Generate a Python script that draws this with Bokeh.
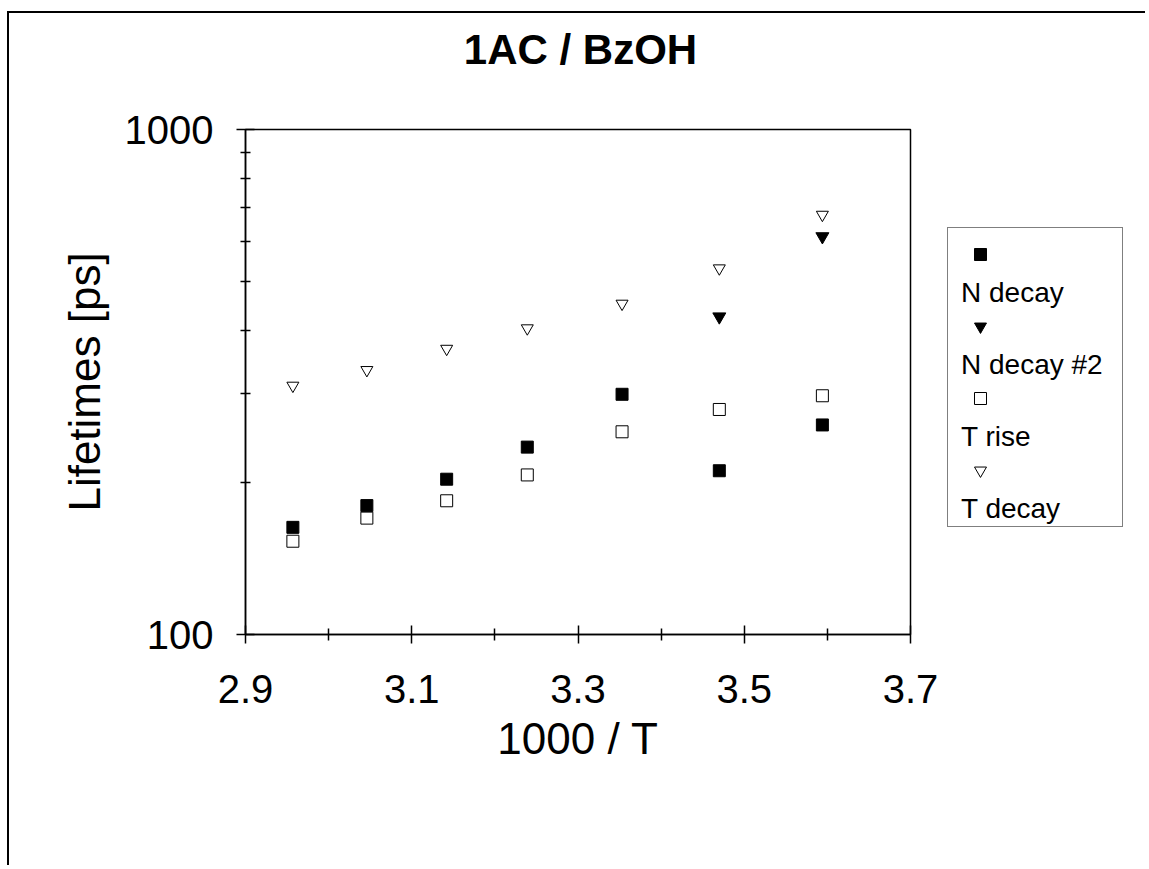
from bokeh.plotting import figure
from bokeh.models import FixedTicker, Legend, LegendItem, Label
from bokeh.embed import file_html
from bokeh.resources import INLINE

# ---- data ----
inv_temp = [2.957, 3.046, 3.142, 3.239, 3.353, 3.470, 3.594]
n_decay = [163, 180, 203, 235, 299, 211, 260]
inv_temp_2 = [3.470, 3.594]
n_decay_2 = [426, 614]
t_rise = [153, 170, 184, 207, 252, 279, 297]
t_decay = [311, 334, 368, 404, 452, 531, 678]

x_ticks = [2.9, 3.1, 3.3, 3.5, 3.7]
x_minor = [3.0, 3.2, 3.4, 3.6]
y_ticks = [100, 1000]
y_minor = [200, 300, 400, 500, 600, 700, 800, 900]

title_text = "1AC / BzOH"
series_names = ["N decay", "N decay #2", "T rise", "T decay"]

FONT = "Liberation Sans"
W, H = 1138, 854

# ---------------- main chart ----------------
p = figure(width=W, height=H, x_range=(2.9, 3.7), y_range=(100, 1000),
           y_axis_type="log", output_backend="svg", toolbar_location=None,
           min_border_left=236, min_border_right=237, min_border_top=116,
           min_border_bottom=233)
p.styles = {"position": "absolute", "left": "7px", "top": "11px",
            "border-left": "2px solid black", "border-top": "2px solid black"}

p.xgrid.visible = False
p.ygrid.visible = False
p.outline_line_color = "black"
p.outline_line_width = 1.5
p.background_fill_color = "white"
p.border_fill_color = "white"

for ax in (p.xaxis[0], p.yaxis[0]):
    ax.axis_line_color = "black"
    ax.axis_line_width = 1.5
    ax.major_tick_line_color = "black"
    ax.minor_tick_line_color = "black"
    ax.major_tick_line_width = 1.5
    ax.minor_tick_line_width = 1.5
    ax.major_tick_in = 9
    ax.major_tick_out = 9
    ax.major_label_text_font = FONT
    ax.major_label_text_font_size = "40px"
    ax.major_label_text_color = "black"
    ax.axis_label_text_font = FONT
    ax.axis_label_text_font_size = "44px"
    ax.axis_label_text_font_style = "normal"
    ax.axis_label_text_color = "black"

p.xaxis.ticker = FixedTicker(ticks=x_ticks, minor_ticks=x_minor)
p.xaxis.minor_tick_in = 6
p.xaxis.minor_tick_out = 6
p.xaxis.major_label_standoff = 31
p.xaxis.axis_label = "1000 / T"
p.xaxis.axis_label_standoff = 8

p.yaxis.ticker = FixedTicker(ticks=y_ticks, minor_ticks=y_minor)
p.yaxis.minor_tick_in = 5
p.yaxis.minor_tick_out = 5
p.yaxis.major_label_standoff = 23
p.yaxis.major_label_overrides = {100: "100", 1000: "1000"}
p.yaxis.axis_label = "Lifetimes [ps]"
p.yaxis.axis_label_standoff = 13

STY = [
    dict(marker="square", fill_color="black", line_color="black"),
    dict(marker="inverted_triangle", fill_color="black", line_color="black"),
    dict(marker="square", fill_color="white", line_color="black", line_width=1),
    dict(marker="inverted_triangle", fill_color="white", line_color="black", line_width=1),
]
SERIES = [(inv_temp, n_decay, 12), (inv_temp_2, n_decay_2, 13),
          (inv_temp, t_rise, 12), (inv_temp, t_decay, 12)]
for (xs, ys, sz), st in zip(SERIES, STY):
    p.scatter(xs, ys, size=sz, **st)

# ---------------- overlay: title + legend ----------------
# ranges chosen so that the proxy series (same data) fall outside the canvas
q = figure(width=W, height=H, x_range=(100, 200), y_range=(10000, 20000),
           output_backend="svg", toolbar_location=None,
           x_axis_location=None, y_axis_location=None,
           min_border=0, min_border_left=0, min_border_right=0,
           min_border_top=0, min_border_bottom=0)
q.styles = {"position": "absolute", "left": "9px", "top": "13px"}
q.xgrid.visible = False
q.ygrid.visible = False
q.outline_line_color = None
q.background_fill_alpha = 0
q.border_fill_alpha = 0

q.add_layout(Label(x=571, y=H - 36, x_units="screen", y_units="screen",
                   text=title_text, text_align="center",
                   text_baseline="alphabetic", text_font=FONT,
                   text_font_size="42px", text_font_style="bold",
                   text_color="black"))

blank = q.scatter(x=inv_temp, y=n_decay, size=1, fill_alpha=0, line_alpha=0)
proxies = [q.scatter(xs, ys, size=sz, **st) for (xs, ys, sz), st in zip(SERIES, STY)]

box_items, text_items, marker_items = [], [], []
for name, prx in zip(series_names, proxies):
    box_items += [LegendItem(label=" ", renderers=[blank]),
                  LegendItem(label=" ", renderers=[blank])]
    text_items += [LegendItem(label=" ", renderers=[blank]),
                   LegendItem(label=name, renderers=[blank])]
    marker_items += [LegendItem(label=" ", renderers=[prx]),
                     LegendItem(label=" ", renderers=[blank])]

common = dict(orientation="vertical", spacing=0, margin=0, glyph_height=36,
              label_height=36, label_standoff=0, label_text_font=FONT,
              label_text_font_size="28px", label_text_color="black")
# bordered box (padding applies only when a border is drawn)
legend_box = Legend(items=box_items, location=(938, 340), padding=5,
                    glyph_width=9, label_width=155,
                    border_line_color="black", border_line_width=1,
                    background_fill_color="white", background_fill_alpha=1,
                    **common)
# borderless layers: no padding
legend_text = Legend(items=text_items, location=(938, 340), padding=0,
                     glyph_width=14, label_width=150,
                     border_line_color=None, background_fill_alpha=0,
                     **common)
legend_marks = Legend(items=marker_items, location=(956, 343), padding=0,
                      glyph_width=30, label_width=20,
                      border_line_color=None, background_fill_alpha=0,
                      **common)
q.add_layout(legend_box)
q.add_layout(legend_text)
q.add_layout(legend_marks)

open("out.html", "w").write(file_html([p, q], INLINE))
